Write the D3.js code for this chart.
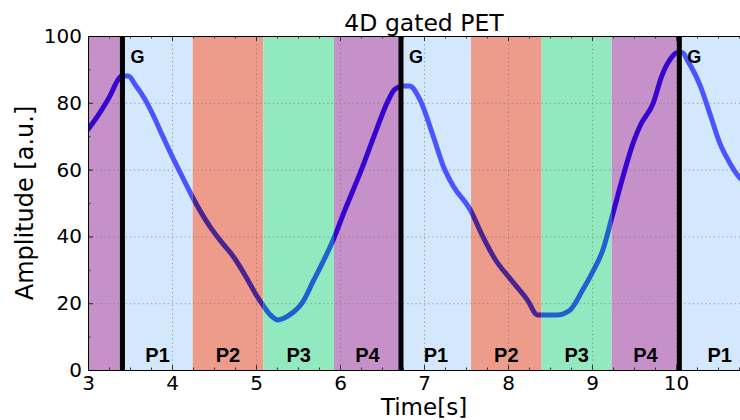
<!DOCTYPE html>
<html>
<head>
<meta charset="utf-8">
<script src="https://cdn.jsdelivr.net/npm/d3@7"></script>
<style>
  html, body { margin: 0; padding: 0; background: #fff; }
  svg { display: block; overflow: hidden; }
</style>
</head>
<body>
<svg id="chart" width="740" height="420"></svg>
<script>
// Breathing amplitude trace (time in s, amplitude in a.u.)
const time = [3.00, 3.14, 3.26, 3.36, 3.40, 3.48, 3.56, 3.68, 3.80, 3.89, 4.04, 4.12, 4.25,
  4.45, 4.60, 4.73, 4.89, 4.99, 5.08, 5.17, 5.26, 5.40, 5.56, 5.68, 5.79, 5.92,
  6.06, 6.24, 6.42, 6.57, 6.65, 6.75, 6.83, 6.95, 7.11, 7.23, 7.35, 7.55, 7.70,
  7.85, 8.02, 8.23, 8.35, 8.58, 8.74, 8.89, 9.00, 9.13, 9.24, 9.37, 9.49, 9.57,
  9.73, 9.83, 9.93, 10.01, 10.08, 10.13, 10.29, 10.40, 10.52, 10.64, 10.76, 10.90];
const amplitude = [72, 77, 82, 87, 88, 88, 85.5, 81, 75, 70, 62, 58, 51.5,
  43, 38, 34, 27.5, 23, 19.5, 16.5, 15, 16.5, 20.5, 26.5, 32, 39,
  48, 59, 71, 80.5, 84, 85, 85, 81, 70, 61, 55, 48, 40,
  33, 27.5, 21, 16.5, 16.5, 18, 24, 29, 36, 46, 58, 68, 73,
  80, 88, 93, 95, 95, 93, 85, 77, 68, 62, 57.5, 55];

// Gate triggers and the respiratory phase bins between them
const gates = [3.41, 6.726, 10.04];
const phaseStart = [3.0, 3.41, 4.246, 5.087, 5.929, 6.726, 7.56, 8.40, 9.234, 10.04];
const phaseEnd   = [3.41, 4.246, 5.087, 5.929, 6.726, 7.56, 8.40, 9.234, 10.04, 11.0];
const phaseName  = ["P4", "P1", "P2", "P3", "P4", "P1", "P2", "P3", "P4", "P1"];
const phaseLabeled = [false, true, true, true, true, true, true, true, true, true];

const phaseFill = { P1: "#d3e8fc", P2: "#ed9b8b", P3: "#92e9bf", P4: "#c691c9" };
const traceColor = { P1: "#4b55ff", P2: "#4a2592", P3: "#1e62cf", P4: "#3606cf" };

const xTicks = [3, 4, 5, 6, 7, 8, 9, 10];
const yTicks = [0, 20, 40, 60, 80, 100];

const svg = d3.select("#chart");
const mLeft = 88, mTop = 36, mBottom = 370, mRight = 760;

const x = d3.scaleLinear().domain([3, 11]).range([mLeft, mRight]);
const y = d3.scaleLinear().domain([0, 100]).range([mBottom, mTop]);

const phases = phaseStart.map((s, i) => ({ s, e: phaseEnd[i], name: phaseName[i], lab: phaseLabeled[i] }));

const defs = svg.append("defs");
defs.append("clipPath").attr("id", "plotClip")
  .append("rect").attr("x", mLeft).attr("y", mTop).attr("width", mRight - mLeft).attr("height", mBottom - mTop);

const plot = svg.append("g").attr("clip-path", "url(#plotClip)");

// phase bands
plot.selectAll("rect.band").data(phases).join("rect")
  .attr("class", "band")
  .attr("x", d => x(d.s)).attr("width", d => x(d.e) - x(d.s))
  .attr("y", mTop).attr("height", mBottom - mTop)
  .attr("fill", d => phaseFill[d.name]);

// dotted grid
const grid = plot.append("g").attr("stroke", "#777").attr("stroke-width", 1)
  .attr("stroke-dasharray", "1.2,3").attr("opacity", 0.7);
grid.selectAll("line.gx").data(xTicks).join("line").attr("class", "gx")
  .attr("x1", d => x(d) + 0.5).attr("x2", d => x(d) + 0.5).attr("y1", mTop).attr("y2", mBottom);
grid.selectAll("line.gy").data(yTicks).join("line").attr("class", "gy")
  .attr("y1", d => y(d) + 0.5).attr("y2", d => y(d) + 0.5).attr("x1", mLeft).attr("x2", mRight);

// amplitude trace, coloured per phase bin
const pts = time.map((t, i) => [t, amplitude[i]]);
const line = d3.line().x(d => x(d[0])).y(d => y(d[1])).curve(d3.curveMonotoneX);
phases.forEach((p, i) => {
  const id = "phaseClip" + i;
  defs.append("clipPath").attr("id", id)
    .append("rect").attr("x", x(p.s)).attr("y", mTop - 10)
    .attr("width", x(p.e) - x(p.s)).attr("height", mBottom - mTop + 20);
  plot.append("g").attr("clip-path", `url(#${id})`)
    .append("path").datum(pts)
    .attr("d", line).attr("fill", "none")
    .attr("stroke", traceColor[p.name]).attr("stroke-width", 5)
    .attr("stroke-linejoin", "round").attr("stroke-linecap", "round");
});

// gate markers
plot.selectAll("line.gate").data(gates).join("line").attr("class", "gate")
  .attr("x1", d => x(d)).attr("x2", d => x(d))
  .attr("y1", mTop).attr("y2", mBottom)
  .attr("stroke", "#000").attr("stroke-width", 5);

svg.selectAll("text.glab").data(gates).join("text").attr("class", "glab")
  .attr("x", d => x(d) + 8).attr("y", 63)
  .attr("font-family", "Liberation Sans, Arial, sans-serif")
  .attr("font-weight", "bold").attr("font-size", 18)
  .text("G");

// phase labels
svg.selectAll("text.plab").data(phases.filter(p => p.lab)).join("text").attr("class", "plab")
  .attr("x", d => (x(d.s) + x(d.e)) / 2).attr("y", 362)
  .attr("text-anchor", "middle")
  .attr("font-family", "Liberation Sans, Arial, sans-serif")
  .attr("font-weight", "bold").attr("font-size", 20)
  .text(d => d.name);

// axes with inward ticks
const tickFont = "DejaVu Sans, sans-serif";
const xMinor = d3.range(3, 11.001, 0.25);
const yMinor = d3.range(0, 100.001, 10);

const xAxis = svg.append("g").attr("transform", `translate(0,${mBottom})`)
  .call(d3.axisBottom(x).tickValues(xTicks).tickSize(-5).tickPadding(6).tickFormat(d3.format("d")));
const xAxisTop = svg.append("g").attr("transform", `translate(0,${mTop})`)
  .call(d3.axisTop(x).tickValues(xTicks).tickSize(-5).tickFormat(""));
const xMinB = svg.append("g").attr("transform", `translate(0,${mBottom})`)
  .call(d3.axisBottom(x).tickValues(xMinor).tickSize(-2.5).tickFormat(""));
const xMinT = svg.append("g").attr("transform", `translate(0,${mTop})`)
  .call(d3.axisTop(x).tickValues(xMinor).tickSize(-2.5).tickFormat(""));
const yAxis = svg.append("g").attr("transform", `translate(${mLeft},0)`)
  .call(d3.axisLeft(y).tickValues(yTicks).tickSize(-5).tickPadding(6));
const yMin = svg.append("g").attr("transform", `translate(${mLeft},0)`)
  .call(d3.axisLeft(y).tickValues(yMinor).tickSize(-2.5).tickFormat(""));

[xAxis, xAxisTop, xMinB, xMinT, yAxis, yMin].forEach(g => {
  g.select(".domain").remove();
  g.selectAll(".tick line").attr("stroke", "#333");
  g.selectAll("text").attr("font-family", tickFont).attr("font-size", 20).attr("fill", "#000");
});

// frame
svg.append("rect").attr("x", mLeft + 0.5).attr("y", mTop + 0.5)
  .attr("width", mRight - mLeft).attr("height", mBottom - mTop)
  .attr("fill", "none").attr("stroke", "#000").attr("stroke-width", 1);

// titles
svg.append("text").attr("x", (mLeft + mRight) / 2).attr("y", 31)
  .attr("text-anchor", "middle").attr("font-family", tickFont).attr("font-size", 23.5)
  .text("4D gated PET");
svg.append("text").attr("x", (mLeft + mRight) / 2).attr("y", 415)
  .attr("text-anchor", "middle").attr("font-family", tickFont).attr("font-size", 23)
  .text("Time[s]");
svg.append("text")
  .attr("transform", `translate(33,${(mTop + mBottom) / 2}) rotate(-90)`)
  .attr("text-anchor", "middle").attr("font-family", tickFont).attr("font-size", 24)
  .text("Amplitude [a.u.]");
</script>
</body>
</html>
